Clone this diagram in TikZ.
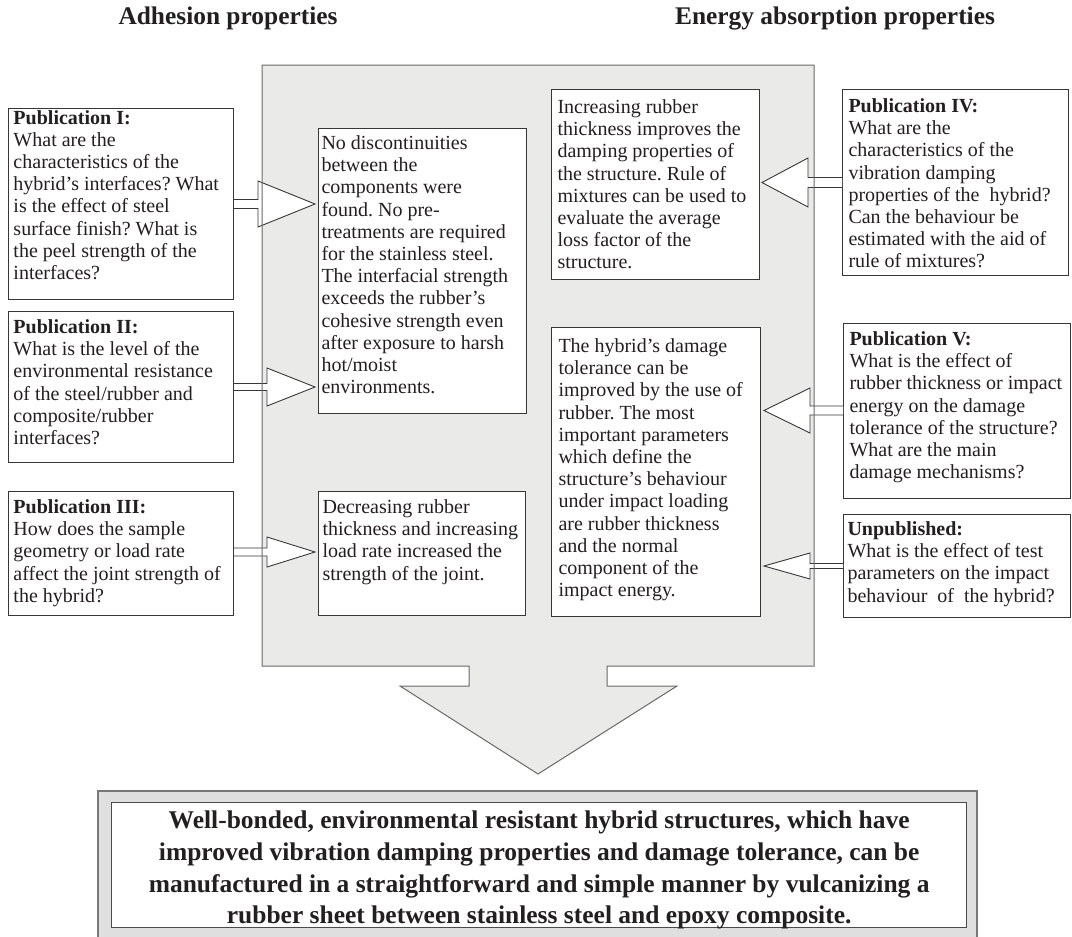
\documentclass[tikz,border=0pt]{standalone}
\usepackage{fontspec}
\setmainfont{Liberation Serif}
\usetikzlibrary{calc}
\frenchspacing
\definecolor{tx}{HTML}{231F20}
\definecolor{bigfill}{RGB}{234,234,232}
\definecolor{bigline}{RGB}{105,105,105}
\definecolor{framefill}{RGB}{223,223,223}
\definecolor{frameline}{RGB}{120,120,120}
\definecolor{boxline}{RGB}{55,55,55}
\newcommand\bx[5]{\parbox[c][#2][t]{#1}{\noindent\begin{tabular}[t]{@{\hspace{#3}}l@{}}\rule{0pt}{#4}#5\end{tabular}}}
\newcommand\blockarrow[7]{%
  \fill[white] (#1 |- 0,#3-#4) -- (#5,#3-#4) -- (#5,#3-#6) -- ($(#2 |- 0,#3)+(#7,0)$) -- (#5,#3+#6) -- (#5,#3+#4) -- (#1 |- 0,#3+#4) -- cycle;
  \draw[blk] (#1 |- 0,#3-#4) -- (#5,#3-#4) -- (#5,#3-#6) -- ($(#2 |- 0,#3)+(#7,0)$) -- (#5,#3+#6) -- (#5,#3+#4) -- (#1 |- 0,#3+#4);}
\tikzset{
  qbox/.style={draw=boxline, line width=1pt, fill=white, anchor=north west, inner sep=0pt, text=tx,
    font=\fontsize{20}{22.2}\selectfont\frenchspacing},
  head/.style={anchor=base, inner sep=0pt, text=tx, font=\fontsize{25.4}{30}\selectfont\bfseries},
  blk/.style={draw=boxline, line width=0.9pt, line join=miter},
  bigshape/.style={draw=bigline, line width=1pt},
  frame/.style={draw=frameline, fill=framefill, line width=1.4pt},
  finbox/.style={draw=boxline!90, line width=1.4pt, fill=white, anchor=north west, inner sep=0pt, text=tx,
    font=\fontsize{25.5}{31.7}\selectfont\bfseries\frenchspacing}
}
\begin{document}
\begin{tikzpicture}[x=1pt,y=-1pt]
\useasboundingbox (0,0) rectangle (1072,937);
% big gray arrow (fill)
\fill[bigfill] (262,65) -- (814,65) -- (814,666) -- (607,666) -- (607,686) -- (677,686) -- (538,774) -- (400,686) -- (469,686) -- (469,666) -- (262,666) -- cycle;
% headings
\node[head] (h1) at (228,24) {Adhesion properties};
\node[head] (h2) at (835,24) {Energy absorption properties};
% bottom frame
\draw[frame] (98,791) rectangle (977,942);
\node[finbox] (fin) at (111,802) {\parbox[c][125pt][t]{855pt}{\centering\begin{tabular}[t]{@{}c@{}}\rule{0pt}{26pt}Well-bonded, environmental resistant hybrid structures, which have\\ improved vibration damping properties and damage tolerance, can be\\ manufactured in a straightforward and simple manner by vulcanizing a\\ rubber sheet between stainless steel and epoxy composite.\end{tabular}}};
% left question boxes
\node[qbox] (p1) at (8,108) {\bx{225pt}{191pt}{5pt}{15pt}{\textbf{Publication I:}\\ What are the\\ characteristics of the\\ hybrid’s interfaces? What\\ is the effect of steel\\ surface finish? What is\\ the peel strength of the\\ interfaces?}};
\node[qbox] (p2) at (8,311) {\bx{225pt}{151pt}{5pt}{22pt}{\textbf{Publication II:}\\ What is the level of the\\ environmental resistance\\ of the steel/rubber and\\ composite/rubber\\ interfaces?}};
\node[qbox] (p3) at (8,491) {\bx{225pt}{124pt}{5pt}{22pt}{\textbf{Publication III:}\\ How does the sample\\ geometry or load rate\\ affect the joint strength of\\ the hybrid?}};
% middle result boxes
\node[qbox] (m1) at (318,128) {\bx{208pt}{285pt}{3pt}{21pt}{No discontinuities\\ between the\\ components were\\ found. No pre-\\ treatments are required\\ for the stainless steel.\\ The interfacial strength\\ exceeds the rubber’s\\ cohesive strength even\\ after exposure to harsh\\ hot/moist\\ environments.}};
\node[qbox] (m2) at (318,491) {\bx{207pt}{124pt}{4pt}{22pt}{Decreasing rubber\\ thickness and increasing\\ load rate increased the\\ strength of the joint.}};
\node[qbox] (r1) at (551,89) {\bx{208pt}{190pt}{6pt}{24pt}{Increasing rubber\\ thickness improves the\\ damping properties of\\ the structure. Rule of\\ mixtures can be used to\\ evaluate the average\\ loss factor of the\\ structure.}};
\node[qbox] (r2) at (551,327) {\bx{209pt}{289pt}{7pt}{25pt}{The hybrid’s damage\\ tolerance can be\\ improved by the use of\\ rubber. The most\\ important parameters\\ which define the\\ structure’s behaviour\\ under impact loading\\ are rubber thickness\\ and the normal\\ component of the\\ impact energy.}};
% right question boxes
\node[qbox] (p4) at (842,89) {\bx{226pt}{186pt}{6pt}{23pt}{\textbf{Publication IV:}\\ What are the\\ characteristics of the\\ vibration damping\\ properties of the\ \ hybrid?\\ Can the behaviour be\\ estimated with the aid of\\ rule of mixtures?}};
\node[qbox] (p5) at (843,323) {\bx{227pt}{175pt}{6pt}{22pt}{\textbf{Publication V:}\\ What is the effect of\\ rubber thickness or impact\\ energy on the damage\\ tolerance of the structure?\\ What are the main\\ damage mechanisms?}};
\node[qbox] (u) at (843,514) {\bx{227pt}{103pt}{4pt}{21pt}{\textbf{Unpublished:}\\ What is the effect of test\\ parameters on the impact\\ behaviour\ \ of\ \ the hybrid?}};
% block arrows
\blockarrow{p1.east}{m1.west}{204}{4.5}{258}{23}{-3}
\blockarrow{p2.east}{m1.west}{387}{3.5}{267}{19}{-3}
\blockarrow{p3.east}{m2.west}{552}{4}{267}{15}{-3}
\blockarrow{p4.west}{r1.east}{182.5}{5}{808}{24.5}{2}
\blockarrow{p5.west}{r2.east}{410.5}{4.5}{810}{22.5}{3}
\blockarrow{u.west}{r2.east}{566}{2.5}{810}{13}{3}
% big gray arrow outline
\draw[bigshape] (262,65) -- (814,65) -- (814,666) -- (607,666) -- (607,686) -- (677,686) -- (538,774) -- (400,686) -- (469,686) -- (469,666) -- (262,666) -- cycle;
\end{tikzpicture}
\end{document}
